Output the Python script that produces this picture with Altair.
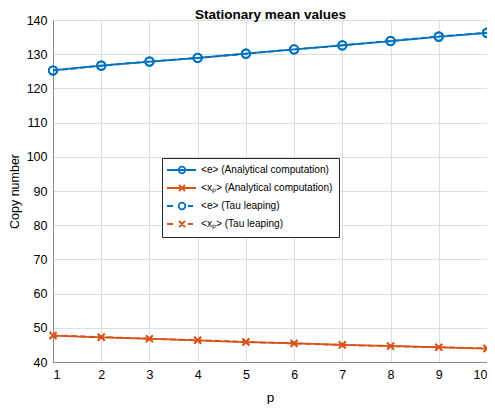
import altair as alt
import pandas as pd

p_vals = [1, 2, 3, 4, 5, 6, 7, 8, 9, 10]
e_analytical = [125.3, 126.7, 127.8, 128.9, 130.2, 131.4, 132.6, 133.8, 135.1, 136.2]
xp_analytical = [47.7, 47.2, 46.8, 46.3, 45.8, 45.5, 45.0, 44.7, 44.3, 43.9]
e_tau = [125.2, 126.6, 127.9, 128.9, 130.1, 131.4, 132.6, 133.9, 135.2, 136.3]
xp_tau = [47.8, 47.3, 46.8, 46.4, 45.9, 45.4, 45.0, 44.6, 44.3, 44.0]
y_ticks = [40, 50, 60, 70, 80, 90, 100, 110, 120, 130, 140]

labels = [
    "<e> (Analytical computation)",
    "<xₚ> (Analytical computation)",
    "<e> (Tau leaping)",
    "<xₚ> (Tau leaping)",
]
variables = ["e", "xp", "e", "xp"]
colors = ["#0072BD", "#D95319", "#0072BD", "#D95319"]
dashes = [[1, 0], [1, 0], [6, 3], [6, 3]]
title_text = "Stationary mean values"

series_values = [e_analytical, xp_analytical, e_tau, xp_tau]
rows = []
for lab, var, vals in zip(labels, variables, series_values):
    for p, v in zip(p_vals, vals):
        rows.append({"p": p, "value": v, "series": lab, "var": var})
df = pd.DataFrame(rows)

# legend glyphs: line + marker (custom SVG paths, 1 unit = 5 px)
circ = "M2.26,0A0.66,0.66 0 1,1 0.94,0A0.66,0.66 0 1,1 2.26,0"
crs = "M1.0,-0.6L2.2,0.6M1.0,0.6L2.2,-0.6"
solid = "M-1.4,0L4.4,0"
dashed = "M-1.4,0L-0.2,0M2.8,0L3.8,0"
legend_paths = [solid + circ, solid + crs, dashed + circ, dashed + crs]

color_scale = alt.Scale(domain=labels, range=colors)
x_scale = alt.Scale(domain=[1, 10], nice=False)
x_bottom = alt.X("p:Q", scale=x_scale,
                 axis=alt.Axis(values=p_vals, title="p", grid=True, tickSize=0,
                               labelPadding=6, titlePadding=10, labelFontSize=12.5,
                               titleFontSize=13.5, titleFontWeight="normal",
                               labelOverlap=False))
x_none = alt.X("p:Q", scale=x_scale, axis=None)
top_axis = alt.Axis(orient="top", labels=False, ticks=False, domain=False, grid=False,
                    title=title_text, titleFontSize=13.5, titleFontWeight="bold",
                    titleColor="#000000", titleFont="Liberation Sans",
                    titleBaseline="alphabetic", titleY=-1.5)
x_top = alt.X("p:Q", scale=x_scale, axis=top_axis)
y_enc = alt.Y("value:Q", scale=alt.Scale(domain=[40, 140], nice=False),
              axis=alt.Axis(values=y_ticks, title="Copy number",
                            grid=True, tickSize=0, labelPadding=6, titlePadding=5,
                            labelFontSize=12.5, titleFontSize=12.5,
                            titleFontWeight="normal", labelOverlap=False))

base = alt.Chart(df)

lines = base.mark_line(strokeWidth=1.8).encode(
    x=x_bottom, y=y_enc,
    color=alt.Color("series:N", scale=color_scale, legend=None),
    strokeDash=alt.StrokeDash("series:N", scale=alt.Scale(domain=labels, range=dashes), legend=None),
    detail="series:N",
)

circles = base.transform_filter(alt.datum.var == "e").mark_point(
    shape="circle", size=72, filled=False, strokeWidth=1.8, opacity=1
).encode(x=x_none, y=y_enc,
         color=alt.Color("series:N", scale=color_scale, legend=None))

crosses = base.transform_filter(alt.datum.var == "xp").mark_point(
    shape="M-0.8,-0.8L0.8,0.8M-0.8,0.8L0.8,-0.8", size=72, filled=False, strokeWidth=1.8, opacity=1
).encode(x=x_none, y=y_enc,
         color=alt.Color("series:N", scale=color_scale, legend=None))

leg_props = dict(
    title=None, orient="none", legendX=109, legendY=138,
    strokeColor="#262626", fillColor="white", padding=6,
    symbolSize=100, symbolStrokeWidth=1.8, symbolOpacity=1,
    symbolFillColor="transparent",
    labelOffset=21, rowPadding=4, labelFontSize=10.1, labelFont="Liberation Sans",
    labelColor="#000000", labelLimit=400, cornerRadius=0,
)

legend_layer = base.mark_point(filled=False, strokeOpacity=0, fillOpacity=0).encode(
    x=x_top, y=y_enc,
    color=alt.Color("series:N", scale=color_scale, legend=alt.Legend(**leg_props)),
    shape=alt.Shape("series:N", scale=alt.Scale(domain=labels, range=legend_paths),
                    legend=alt.Legend(**leg_props)),
)

chart = alt.layer(lines, circles, crosses, legend_layer).resolve_legend(
    color="independent", shape="independent", strokeDash="independent"
).resolve_axis(x="independent").properties(
    width=434, height=342,
    padding={"left": 45, "top": 12, "right": 0, "bottom": 42},
    autosize=alt.AutoSizeParams(type="none"),
).configure_view(
    stroke="#262626", strokeWidth=1
).configure_axis(
    labelFont="Liberation Sans", titleFont="Liberation Sans",
    labelColor="#262626", titleColor="#262626",
    domainColor="#262626", gridColor="#e3e3e3", gridWidth=1,
).configure(background="white")

chart.save("out.html", embed_options={"renderer": "svg", "actions": False})
